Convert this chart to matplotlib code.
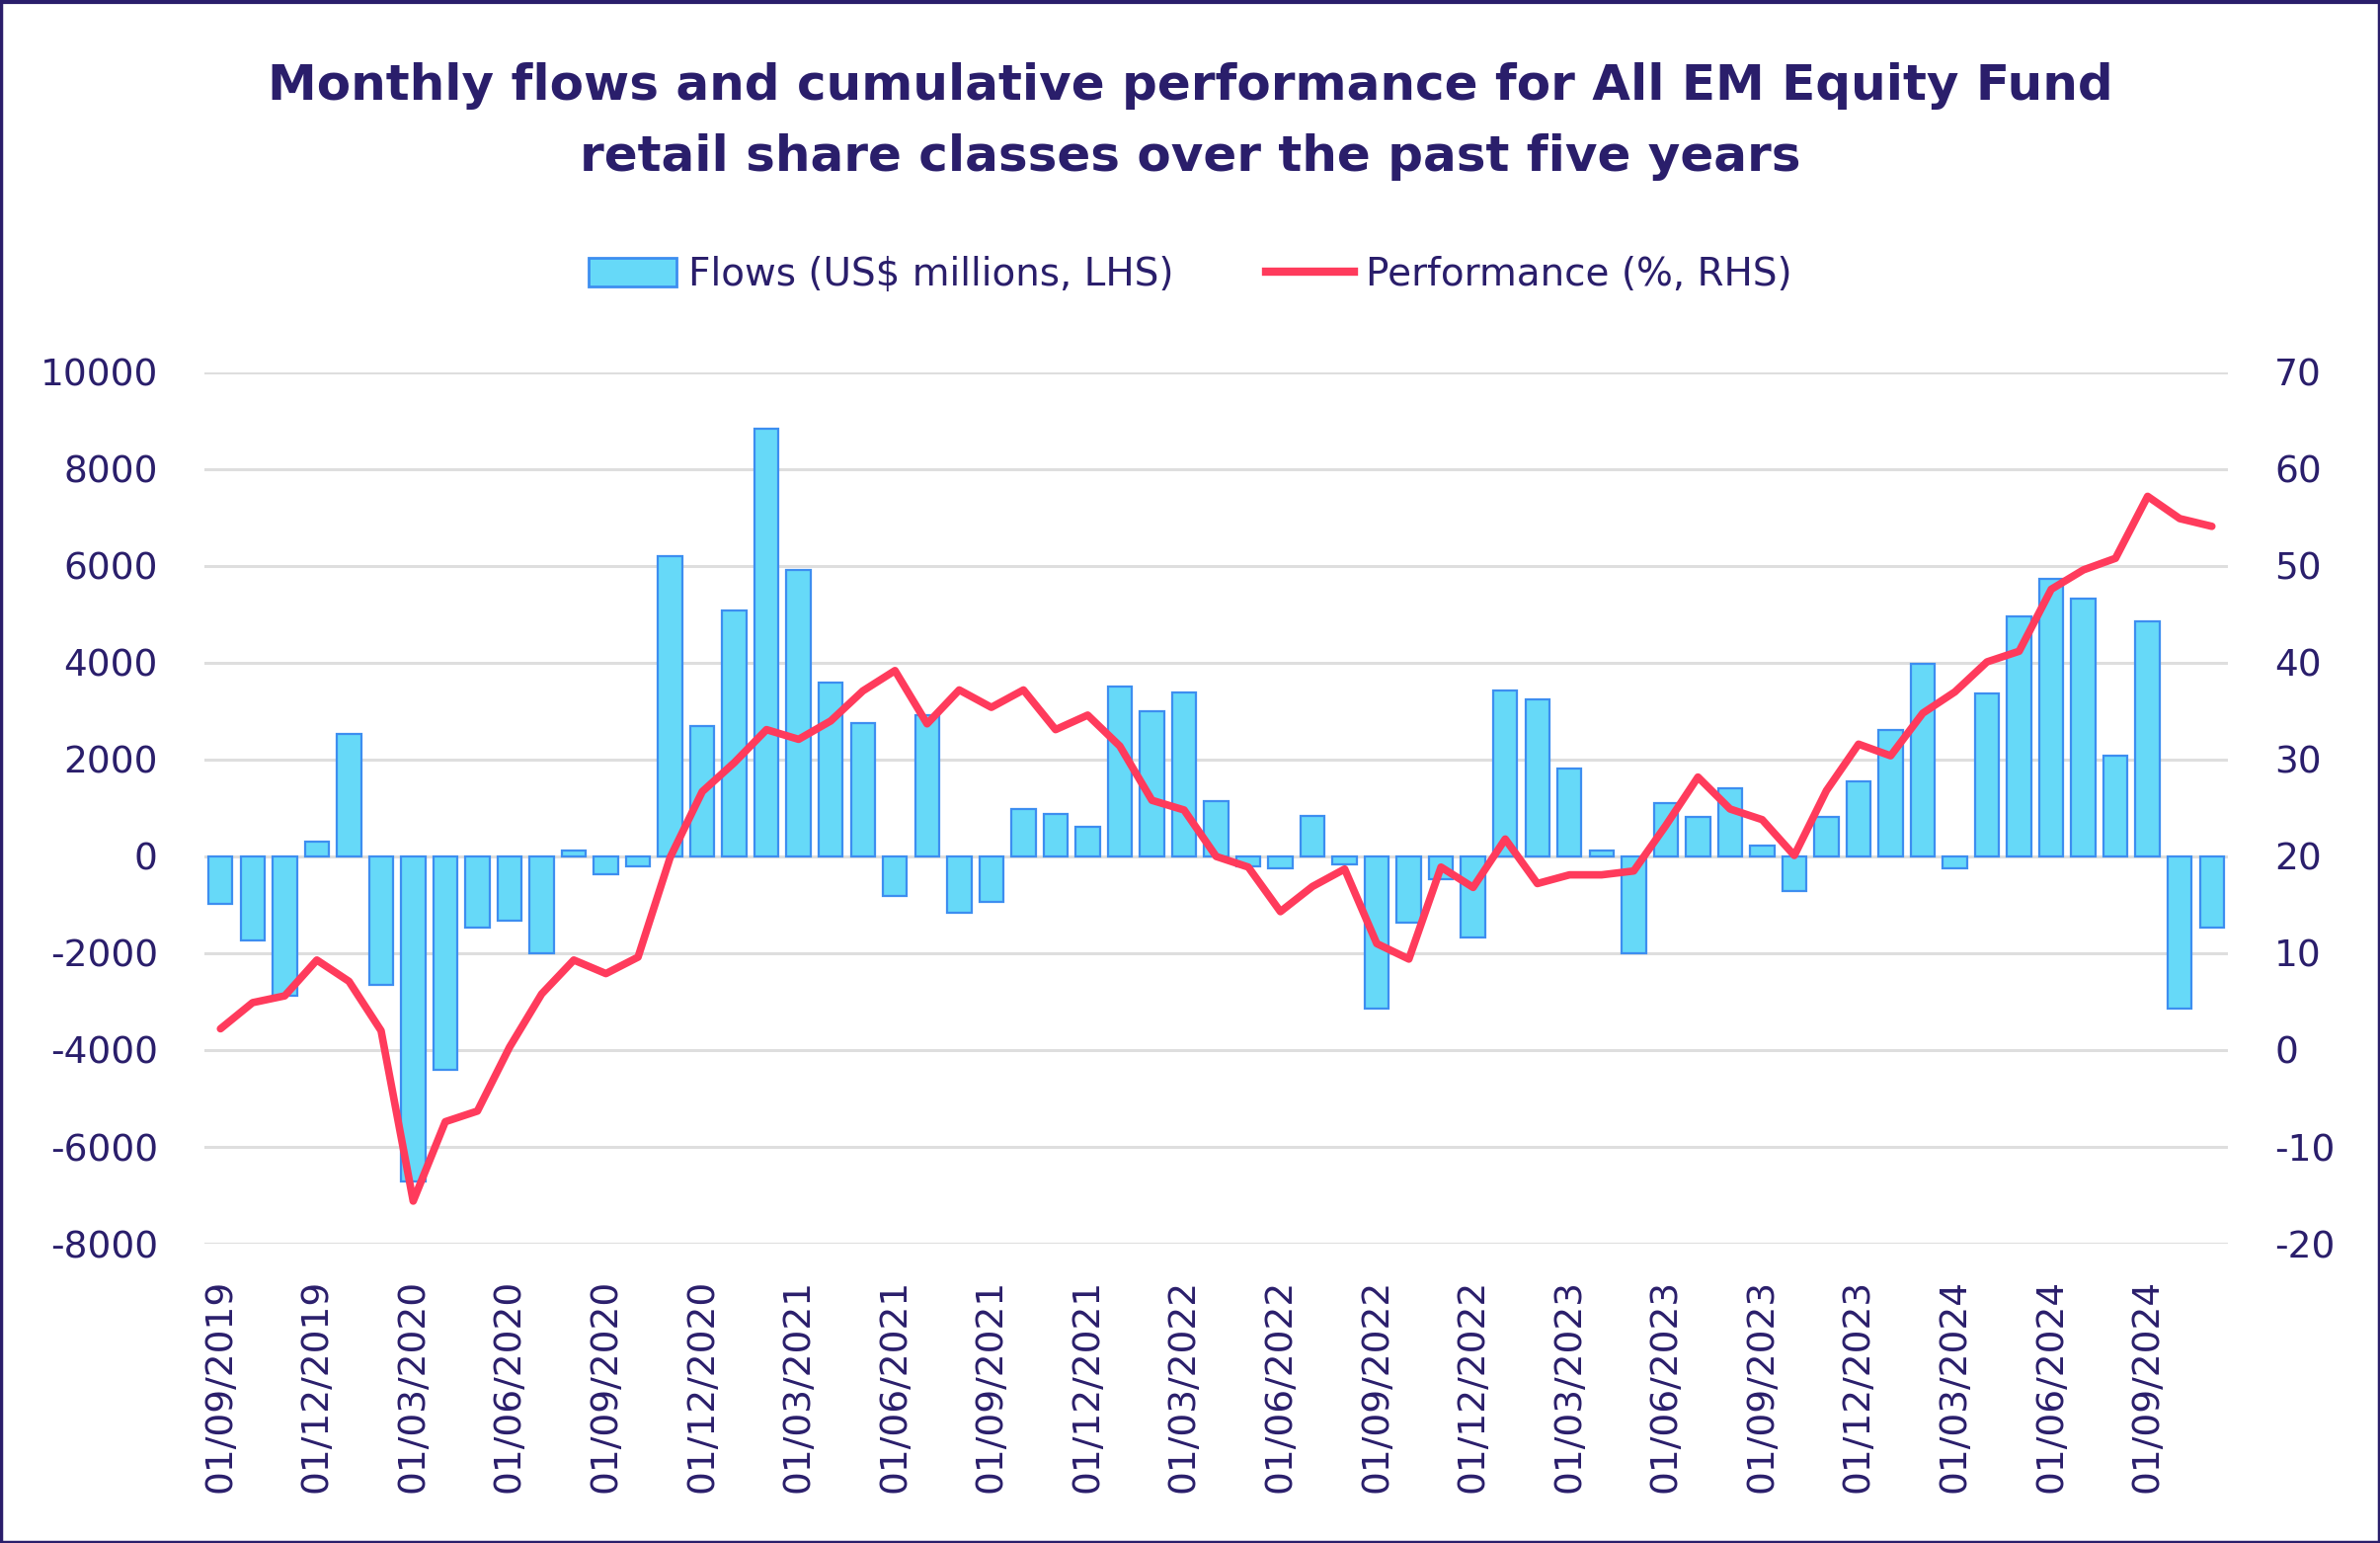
import matplotlib
matplotlib.use("Agg")
import matplotlib.pyplot as plt
import numpy as np
import pandas as pd
from matplotlib.patches import Rectangle
from matplotlib.lines import Line2D

# monthly data, Sep 2019 .. Nov 2024
months = pd.date_range("2019-09-01", "2024-11-01", freq="MS")

flows = [
    -980, -1730, -2870, 300, 2540, -2650, -6720, -4400, -1470, -1320,
    -1990, 120, -370, -210, 6200, 2690, 5090, 8840, 5920, 3600,
    2760, -810, 2920, -1160, -940, 970, 880, 610, 3520, 2990,
    3380, 1150, -200, -240, 840, -160, -3150, -1370, -460, -1670,
    3430, 3250, 1810, 130, -2000, 1100, 810, 1400, 230, -710,
    810, 1560, 2610, 3970, -240, 3370, 4950, 5730, 5320, 2080,
    4860, -3140, -1470,
]

performance = [
    2.2, 4.9, 5.6, 9.3, 7.1, 2.0, -15.6, -7.4, -6.3, 0.3,
    5.8, 9.3, 7.9, 9.6, 19.9, 26.7, 29.7, 33.1, 32.1, 34.0,
    37.1, 39.2, 33.7, 37.2, 35.4, 37.2, 33.1, 34.6, 31.4, 25.8,
    24.8, 20.0, 18.9, 14.3, 16.9, 18.7, 11.0, 9.4, 18.9, 16.8,
    21.8, 17.2, 18.1, 18.1, 18.5, 23.2, 28.2, 24.9, 23.8, 20.1,
    26.8, 31.6, 30.4, 34.8, 37.0, 40.1, 41.2, 47.6, 49.6, 50.8,
    57.2, 54.9, 54.1,
]

tick_labels = [m.strftime("01/%m/%Y") for m in months[::3]]

title = "Monthly flows and cumulative performance for All EM Equity Fund\nretail share classes over the past five years"

navy = "#2a1e6b"
bar_fill = "#66d9f8"
bar_edge = "#3d8ef0"
line_col = "#ff3b5c"
grid_col = "#dedede"

plt.rcParams['font.family'] = ['DejaVu Sans']
plt.rcParams['axes.unicode_minus'] = False

W, H = 2410, 1562
fig = plt.figure(figsize=(W / 100, H / 100), dpi=100)

ax = fig.add_axes([207 / W, 1 - 1259 / H, (2256 - 207) / W, (1259 - 377) / H])
x = np.arange(len(flows))
ax.bar(x, flows, width=0.75, color=bar_fill, edgecolor=bar_edge, linewidth=1.6, zorder=3)
ax.set_xlim(-0.5, len(flows) - 0.5)
ax.set_ylim(-8000, 10000)
ax.set_yticks(np.arange(-8000, 10001, 2000))
ax.yaxis.grid(True, color=grid_col, linewidth=2.2, zorder=0)
ax.set_axisbelow(True)
ax.set_xticks(x[::3])
ax.set_xticklabels(tick_labels, rotation=90, ha="center", va="top")
for s in ax.spines.values():
    s.set_visible(False)
ax.tick_params(axis="both", length=0, labelsize=27, colors=navy)
ax.tick_params(axis="x", pad=26)
ax.tick_params(axis="y", pad=34)

ax2 = ax.twinx()
ax2.plot(x, performance, color=line_col, linewidth=5.5, solid_joinstyle="round",
         solid_capstyle="round", zorder=5)
ax2.set_ylim(-20, 70)
ax2.set_yticks(np.arange(-20, 71, 10))
for s in ax2.spines.values():
    s.set_visible(False)
ax2.tick_params(axis="y", length=0, labelsize=27, colors=navy, pad=34)

fig.text(0.5, 1 - 123 / H, title, ha="center", va="center", fontsize=36,
         fontweight="bold", color=navy, linespacing=1.65)

handles = [Rectangle((0, 0), 1, 1, facecolor=bar_fill, edgecolor=bar_edge, linewidth=2),
           Line2D([0], [0], color=line_col, linewidth=6)]
fig.legend(handles, ["Flows (US$ millions, LHS)", "Performance (%, RHS)"],
           loc="center", bbox_to_anchor=(0.5, 1 - 278 / H), ncol=2, frameon=False,
           fontsize=28, labelcolor=navy, handlelength=2.3, handleheight=0.75,
           handletextpad=0.3, columnspacing=2.4)

# figure frame
fig.patches.append(Rectangle((0.0004, 0.0006), 0.9992, 0.9988, transform=fig.transFigure,
                             fill=False, edgecolor=navy, linewidth=2.5))
fig.add_artist(Line2D([0, 1], [1 - 1.5 / H, 1 - 1.5 / H], transform=fig.transFigure,
                      color=navy, linewidth=3))

fig.savefig("out.png", dpi=100)
